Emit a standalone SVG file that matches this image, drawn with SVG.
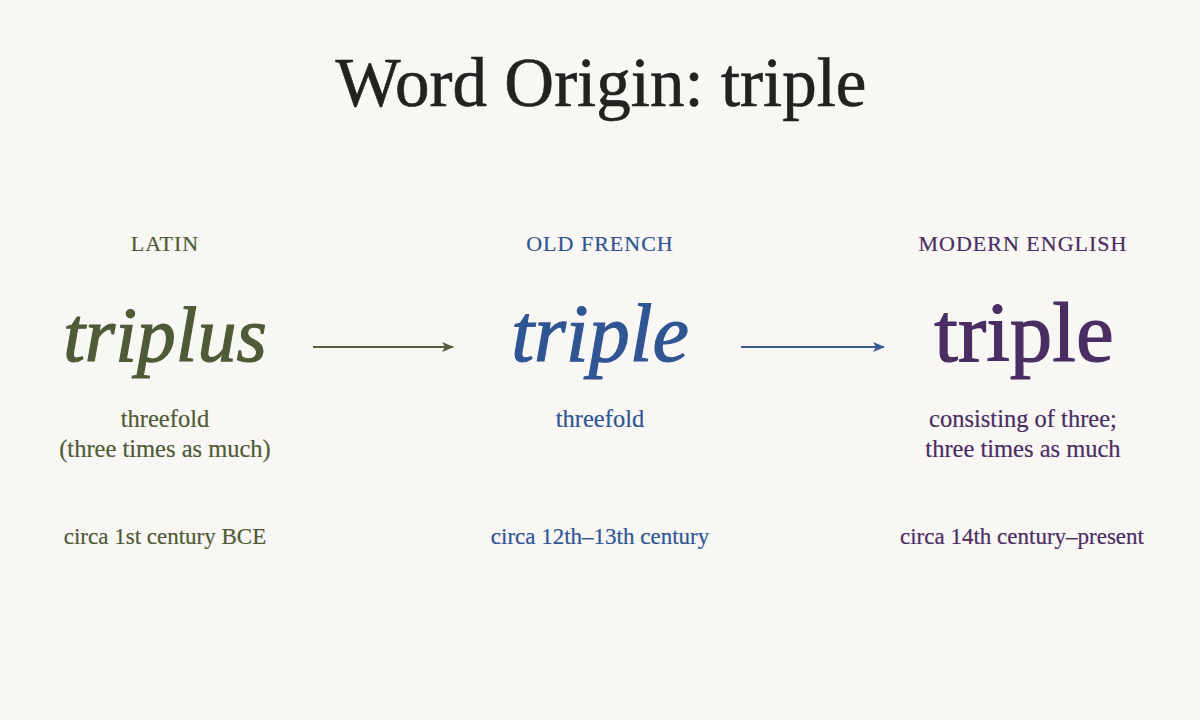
<svg xmlns="http://www.w3.org/2000/svg" width="1200" height="720" viewBox="0 0 1200 720">
<defs>
<style>
text{font-family:"Liberation Serif","DejaVu Serif",serif;text-anchor:middle}
.title{font-size:69px;fill:#222222;stroke:#222222;stroke-width:0.6}
.lang{font-size:22px;letter-spacing:1px}
.word{font-size:82px;stroke-width:1.2}
.gloss{font-size:24.5px}
.date{font-size:23px}
.latin{fill:#4f5a37;stroke:#4f5a37}
.french{fill:#2f5593;stroke:#2f5593}
.english{fill:#4a2d62;stroke:#4a2d62}
.lang,.gloss,.date{stroke-width:0.2}
</style>
<marker id="ahG" viewBox="0 0 12 10" refX="11" refY="5" markerWidth="12" markerHeight="10" markerUnits="userSpaceOnUse" orient="auto"><path d="M0,0 L12,5 L0,10 L3,5 Z" fill="#555e3e"/></marker>
<marker id="ahB" viewBox="0 0 12 10" refX="11" refY="5" markerWidth="12" markerHeight="10" markerUnits="userSpaceOnUse" orient="auto"><path d="M0,0 L12,5 L0,10 L3,5 Z" fill="#3a5c92"/></marker>
</defs>
<rect width="1200" height="720" fill="#f8f7f3"/>
<text class="title" x="601" y="106">Word Origin: triple</text>
<g id="latin">
<text class="lang latin" x="165" y="251">LATIN</text>
<text class="word latin" x="165" y="361" style="font-size:78px;font-style:italic">triplus</text>
<text class="gloss latin" x="165" y="427">threefold</text>
<text class="gloss latin" x="165" y="457">(three times as much)</text>
<text class="date latin" x="165" y="544">circa 1st century BCE</text>
</g>
<g id="oldfrench">
<text class="lang french" x="600" y="251">OLD FRENCH</text>
<text class="word french" x="600" y="361" style="font-style:italic">triple</text>
<text class="gloss french" x="600" y="427">threefold</text>
<text class="date french" x="600" y="544">circa 12th–13th century</text>
</g>
<g id="modernenglish">
<text class="lang english" x="1023" y="251">MODERN ENGLISH</text>
<text class="word english" x="1024" y="361" style="font-size:85px">triple</text>
<text class="gloss english" x="1023" y="427">consisting of three;</text>
<text class="gloss english" x="1023" y="457">three times as much</text>
<text class="date english" x="1022" y="544">circa 14th century–present</text>
</g>
<g id="connectors">
<line x1="313" y1="347" x2="453" y2="347" stroke="#555e3e" stroke-width="2" marker-end="url(#ahG)"/>
<line x1="741" y1="347" x2="884" y2="347" stroke="#3a5c92" stroke-width="2" marker-end="url(#ahB)"/>
</g>
</svg>
